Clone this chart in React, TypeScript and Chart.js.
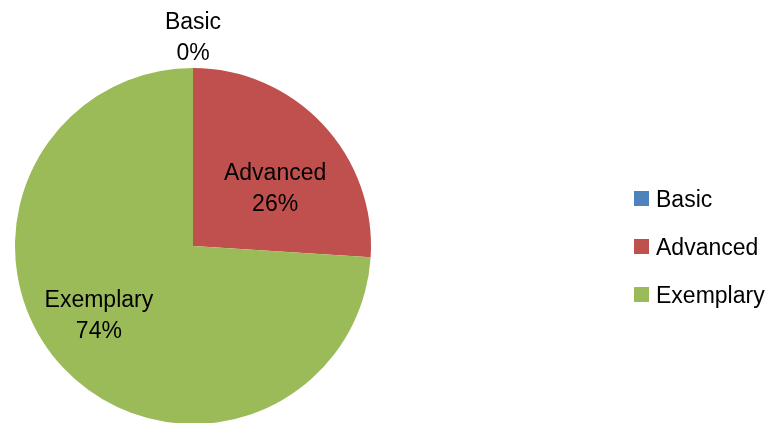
import React, { useEffect, useRef } from "react";
import { Chart, registerables } from "chart.js";

Chart.register(...registerables);

const categories: string[] = ["Basic", "Advanced", "Exemplary"];
const percentValues: number[] = [0, 26, 74];
const sliceColors: string[] = ["#4F81BD", "#C0504D", "#9BBB59"];

const FONT = "23px 'Liberation Sans', Arial, sans-serif";

const labelPlugin = {
  id: "excelPieLabels",
  afterDraw(chart: any) {
    const ctx = chart.ctx as CanvasRenderingContext2D;
    const meta = chart.getDatasetMeta(0);
    const values = chart.data.datasets[0].data as number[];
    const labels = chart.data.labels as string[];
    ctx.save();
    ctx.font = FONT;
    ctx.fillStyle = "#000000";
    ctx.textAlign = "center";
    ctx.textBaseline = "middle";
    const lineH = 31;
    meta.data.forEach((arc: any, i: number) => {
      const p = arc.getProps(["x", "y", "startAngle", "endAngle", "outerRadius"], true);
      const mid = (p.startAngle + p.endAngle) / 2;
      const lines = [labels[i], Math.round(values[i]) + "%"];
      let cx: number, cy: number;
      if (values[i] === 0) {
        const d = p.outerRadius + 6 + lineH;
        cx = p.x + Math.cos(mid) * d;
        cy = p.y + Math.sin(mid) * d + 7;
      } else {
        const a = mid + 0.13;
        const d = p.outerRadius * 0.61;
        cx = p.x + Math.cos(a) * d - 6;
        cy = p.y + Math.sin(a) * d + 7;
      }
      lines.forEach((t, k) => {
        ctx.fillText(t, cx, cy + (k - (lines.length - 1) / 2) * lineH);
      });
    });
    // legend
    const first = meta.data[0].getProps(["y"], true);
    const centerY = first.y;
    const spacing = 48;
    const n = labels.length;
    ctx.textAlign = "left";
    labels.forEach((lab, i) => {
      const y = centerY + (i - (n - 1) / 2) * spacing;
      ctx.fillStyle = sliceColors[i];
      ctx.fillRect(634, y - 7, 15, 15);
      ctx.fillStyle = "#000000";
      ctx.fillText(lab, 656, y + 3);
    });
    ctx.restore();
  },
};

export default function App() {
  const ref = useRef<HTMLCanvasElement | null>(null);
  useEffect(() => {
    if (!ref.current) return;
    const chart = new Chart(ref.current, {
      type: "pie",
      data: {
        labels: categories,
        datasets: [
          {
            data: percentValues,
            backgroundColor: sliceColors,
            borderWidth: 0,
          },
        ],
      },
      options: {
        responsive: false,
        animation: false,
        events: [],
        layout: { padding: { left: 15, top: 68, right: 397, bottom: 16 } },
        plugins: {
          legend: { display: false },
          tooltip: { enabled: false },
        },
      },
      plugins: [labelPlugin],
    });
    return () => chart.destroy();
  }, []);
  return (
    <div
      style={{
        position: "fixed",
        left: 0,
        top: 0,
        width: 768,
        height: 423,
        overflow: "hidden",
        background: "#ffffff",
      }}
    >
      <canvas ref={ref} width={768} height={440} style={{ display: "block" }} />
    </div>
  );
}
